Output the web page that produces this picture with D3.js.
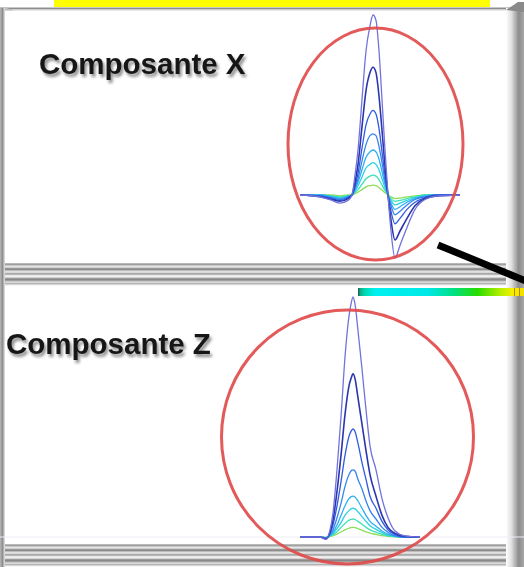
<!DOCTYPE html>
<html>
<head>
<meta charset="utf-8">
<script src="https://cdn.jsdelivr.net/npm/d3@7"></script>
<style>
html, body { margin: 0; padding: 0; background: #fff; overflow: hidden; }
svg { display: block; }
</style>
</head>
<body>
<div id="container"></div>
<script>
var W = 524, H = 567;

// ---- data (time in samples, amplitude normalised to the largest trace) ----
var tX = [150, 160, 166, 170, 174, 176, 177.5, 179, 181, 183, 185, 186.5, 188, 189.5, 191, 192.5, 194, 195.5, 197.5, 200, 203.5, 207.5, 212.5, 218.5, 230];
var x0 = [0, -0.01, -0.03, -0.045, -0.03, 0.0, 0.11, 0.25, 0.53, 0.8, 0.94, 1.0, 0.97, 0.8, 0.53, 0.25, 0.0, -0.2, -0.35, -0.28, -0.18, -0.08, -0.025, -0.005, 0];
var x1 = [0, -0.01, -0.025, -0.035, -0.02, 0.0, 0.07, 0.17, 0.38, 0.58, 0.68, 0.71, 0.68, 0.55, 0.36, 0.16, 0.0, -0.14, -0.25, -0.2, -0.13, -0.06, -0.02, -0.005, 0];
var x2 = [0, -0.005, -0.02, -0.03, -0.015, 0.0, 0.05, 0.12, 0.26, 0.39, 0.45, 0.47, 0.45, 0.37, 0.24, 0.11, 0.0, -0.09, -0.16, -0.13, -0.08, -0.04, -0.015, 0, 0];
var x3 = [0, -0.005, -0.015, -0.025, -0.01, 0.0, 0.04, 0.09, 0.19, 0.28, 0.33, 0.34, 0.33, 0.27, 0.18, 0.08, 0.0, -0.06, -0.11, -0.09, -0.055, -0.025, -0.01, 0, 0];
var x4 = [0, 0, -0.01, -0.02, -0.01, 0.0, 0.03, 0.07, 0.14, 0.21, 0.24, 0.25, 0.24, 0.2, 0.13, 0.06, 0.0, -0.045, -0.08, -0.065, -0.04, -0.02, -0.005, 0, 0];
var x5 = [0, 0, -0.01, -0.015, -0.005, 0.0, 0.02, 0.05, 0.1, 0.15, 0.17, 0.18, 0.17, 0.14, 0.09, 0.04, 0.0, -0.03, -0.055, -0.045, -0.03, -0.015, -0.005, 0, 0];
var x6 = [0, 0, -0.005, -0.01, -0.005, 0, 0.015, 0.03, 0.06, 0.09, 0.105, 0.11, 0.105, 0.085, 0.055, 0.025, 0, -0.02, -0.035, -0.03, -0.02, -0.01, 0, 0, 0];
var x7 = [0, 0, 0, -0.005, 0, 0, 0.008, 0.015, 0.03, 0.045, 0.052, 0.055, 0.052, 0.042, 0.028, 0.012, 0, -0.01, -0.02, -0.017, -0.01, -0.005, 0, 0, 0];

var tZ = [150, 160, 163, 165, 166.5, 168.5, 170.5, 172.5, 174.5, 175.5, 176.5, 177.5, 179, 181, 183, 185, 188, 191, 194, 197.5, 202.5, 210];
var z0 = [0, 0, -0.01, 0.03, 0.1, 0.28, 0.5, 0.75, 0.92, 0.97, 1.0, 0.97, 0.86, 0.7, 0.53, 0.38, 0.28, 0.16, 0.08, 0.025, 0.005, 0];
var z1 = [0, 0, -0.008, 0.02, 0.07, 0.19, 0.34, 0.51, 0.63, 0.66, 0.68, 0.66, 0.58, 0.47, 0.36, 0.26, 0.17, 0.09, 0.04, 0.015, 0.003, 0];
var z2 = [0, 0, -0.006, 0.015, 0.05, 0.13, 0.23, 0.34, 0.42, 0.44, 0.45, 0.44, 0.39, 0.31, 0.24, 0.17, 0.12, 0.065, 0.03, 0.01, 0, 0];
var z3 = [0, 0, -0.005, 0.01, 0.03, 0.08, 0.14, 0.21, 0.26, 0.275, 0.28, 0.275, 0.24, 0.2, 0.15, 0.11, 0.075, 0.04, 0.02, 0.005, 0, 0];
var z4 = [0, 0, -0.004, 0.008, 0.02, 0.05, 0.09, 0.13, 0.16, 0.167, 0.17, 0.167, 0.15, 0.12, 0.09, 0.065, 0.045, 0.025, 0.012, 0.004, 0, 0];
var z5 = [0, 0, -0.003, 0.006, 0.015, 0.035, 0.06, 0.09, 0.11, 0.117, 0.12, 0.117, 0.105, 0.085, 0.065, 0.047, 0.032, 0.018, 0.008, 0.003, 0, 0];
var z6 = [0, 0, -0.002, 0.004, 0.01, 0.022, 0.04, 0.056, 0.07, 0.073, 0.075, 0.073, 0.065, 0.053, 0.04, 0.03, 0.02, 0.011, 0.005, 0.002, 0, 0];
var z7 = [0, 0, -0.002, 0.002, 0.006, 0.012, 0.021, 0.03, 0.037, 0.039, 0.04, 0.039, 0.035, 0.028, 0.021, 0.016, 0.011, 0.006, 0.003, 0.001, 0, 0];

var seriesX = [x0, x1, x2, x3, x4, x5, x6, x7];
var seriesZ = [z0, z1, z2, z3, z4, z5, z6, z7];
var traceColors = ['#7272dc', '#2a36ae', '#2e5be0', '#3784ee', '#2eaef0', '#2ad0e6', '#3ee0b4', '#8ade5a'];

// little bits of noise along the zero line (start, end in samples)
var dashXStart = [0, 5, 12.5, 24, 34, 43, 46, 62, 79, 86, 98, 115, 125, 138, 220];
var dashXEnd   = [3, 11, 22.5, 31, 43, 45, 59, 75, 85, 97.5, 108, 123, 134, 150, 256];
var dashXColor = ['#3a8a9a', '#d070c0', '#9060c0', '#c070d0', '#a0a088', '#404050', '#e0a0a0', '#8050b0', '#5070c0', '#a090d0', '#c060b0', '#4080c0', '#b0b0b0', '#e090b0', '#c8b8e6'];
var dashZStart = [1.5, 83, 135, 144, 220, 247];
var dashZEnd   = [31, 89, 140, 149, 226, 262];
var dashZColor = ['#8a8ad6', '#3040a0', '#3040a0', '#4050b0', '#b4b4e4', '#6a6ac8'];

var labels = ['Composante X', 'Composante Z'];

// colour bar
var cbStops  = [0, 0.04, 0.1, 0.42, 0.58, 0.72, 0.86, 0.93, 1];
var cbColors = ['#109878', '#00d8b0', '#00f0f0', '#00e8e8', '#00e080', '#28dc00', '#b8ee00', '#f4f000', '#f0e000'];

// ---- scales ----
var x = d3.scaleLinear().domain([0, 262]).range([0, W]);
var yX = d3.scaleLinear().domain([0, 1]).range([195, 15]);
var yZ = d3.scaleLinear().domain([0, 1]).range([537, 297]);

var svg = d3.select('#container').append('svg')
  .attr('width', W).attr('height', H)
  .attr('viewBox', '0 0 ' + W + ' ' + H);

var defs = svg.append('defs');
defs.append('filter').attr('id', 'soft').append('feGaussianBlur').attr('stdDeviation', 0.45);
defs.append('filter').attr('id', 'soft2').append('feGaussianBlur').attr('stdDeviation', 0.7);
var sh = defs.append('filter').attr('id', 'shadow')
  .attr('x', '-10%').attr('y', '-30%').attr('width', '130%').attr('height', '180%');
sh.append('feGaussianBlur').attr('in', 'SourceAlpha').attr('stdDeviation', 1.6).attr('result', 'b');
sh.append('feOffset').attr('in', 'b').attr('dx', 2).attr('dy', 3).attr('result', 'o');
sh.append('feComponentTransfer').attr('in', 'o').attr('result', 'o2')
  .append('feFuncA').attr('type', 'linear').attr('slope', 0.45);
var shm = sh.append('feMerge');
shm.append('feMergeNode').attr('in', 'o2');
shm.append('feMergeNode').attr('in', 'SourceGraphic');

var gRight = defs.append('linearGradient').attr('id', 'gRight').attr('x1', 0).attr('x2', 1).attr('y1', 0).attr('y2', 0);
[[0, '#ffffff'], [0.3, '#e0e0e0'], [0.7, '#8c8c8c'], [1, '#a8a8a8']].forEach(function (s) {
  gRight.append('stop').attr('offset', s[0]).attr('stop-color', s[1]);
});
var gLeft = defs.append('linearGradient').attr('id', 'gLeft').attr('x1', 0).attr('x2', 1).attr('y1', 0).attr('y2', 0);
[[0, '#b8b8b8'], [0.5, '#8e8e8e'], [1, '#e8e8e8']].forEach(function (s) {
  gLeft.append('stop').attr('offset', s[0]).attr('stop-color', s[1]);
});
var gCb = defs.append('linearGradient').attr('id', 'gCb').attr('x1', 0).attr('x2', 1).attr('y1', 0).attr('y2', 0);
cbStops.forEach(function (s, i) {
  gCb.append('stop').attr('offset', s).attr('stop-color', cbColors[i]);
});

svg.append('rect').attr('width', W).attr('height', H).attr('fill', '#fff');

// yellow title strip
svg.append('rect').attr('x', 54).attr('y', 0).attr('width', 436).attr('height', 7).attr('fill', '#ffff00');

// frame
var stripes = ['#b8b8b8', '#a0a0a0', '#c8c8c8', '#e4e4e4', '#d0d0d0', '#989898', '#8c8c8c', '#bcbcbc',
  '#e0e0e0', '#d8d8d8', '#a8a8a8', '#b8b8b8', '#e8e8e8', '#f0f0f0', '#d0d0d0', '#9c9c9c', '#888888',
  '#a0a0a0', '#c8c8c8', '#dcdcdc', '#b0b0b0', '#d8d8d8', '#f4f4f4'];
function band(y0) {
  svg.append('g').selectAll('rect').data(stripes).join('rect')
    .attr('x', 0).attr('y', function (d, i) { return y0 + i; })
    .attr('width', W).attr('height', 1).attr('fill', function (d) { return d; });
}
band(263);
band(544);

svg.append('rect').attr('x', 0).attr('y', 7).attr('width', W).attr('height', 1).attr('fill', '#c8c8c8');
svg.append('rect').attr('x', 0).attr('y', 8).attr('width', W).attr('height', 1.5).attr('fill', '#8e8e8e');
svg.append('rect').attr('x', 0).attr('y', 9.5).attr('width', W).attr('height', 1).attr('fill', '#d4d4d4');
svg.append('polygon').attr('points', '0,7 4,7 14,10.5 0,10.5').attr('fill', '#c0c0c0');
svg.append('rect').attr('x', 0).attr('y', 8).attr('width', 5).attr('height', H - 8).attr('fill', 'url(#gLeft)');
svg.append('rect').attr('x', 506).attr('y', 8).attr('width', 18).attr('height', H - 8).attr('fill', 'url(#gRight)');
svg.append('polygon').attr('points', '506,10 518,2 524,2 524,12').attr('fill', '#8a8a8a');

// colour bar
svg.append('rect').attr('x', 358).attr('y', 288).attr('width', 166).attr('height', 8).attr('fill', 'url(#gCb)');
svg.append('rect').attr('x', 358).attr('y', 288).attr('width', 1.5).attr('height', 8).attr('fill', '#2a6a5a');
[514, 519].forEach(function (v) {
  svg.append('rect').attr('x', v).attr('y', 288).attr('width', 1).attr('height', 8).attr('fill', '#c08400');
});

// labels
svg.append('g').attr('filter', 'url(#shadow)').selectAll('text').data(labels).join('text')
  .attr('x', function (d, i) { return i === 0 ? 39 : 6; })
  .attr('y', function (d, i) { return i === 0 ? 74 : 354; })
  .attr('font-family', 'Liberation Sans, Arial, sans-serif')
  .attr('font-weight', 'bold')
  .attr('font-size', 29.5)
  .attr('fill', '#161616')
  .text(function (d) { return d; });

// zero line noise
function dashes(starts, ends, colors, y, w) {
  svg.append('g').attr('filter', 'url(#soft)').selectAll('line').data(starts).join('line')
    .attr('x1', function (d) { return x(d); })
    .attr('x2', function (d, i) { return x(ends[i]); })
    .attr('y1', y(0)).attr('y2', y(0))
    .attr('stroke', function (d, i) { return colors[i]; })
    .attr('stroke-width', w);
}
svg.append('line').attr('x1', x(0)).attr('x2', x(262)).attr('y1', yZ(0)).attr('y2', yZ(0))
  .attr('stroke', '#ececf6').attr('stroke-width', 1);
dashes(dashXStart, dashXEnd, dashXColor, yX, 2);
dashes(dashZStart, dashZEnd, dashZColor, yZ, 2);

// traces: smallest first, largest last so the zero line keeps the outer colour
function traces(t, series, y) {
  var line = d3.line()
    .x(function (d, i) { return x(t[i]); })
    .y(function (d) { return y(d); })
    .curve(d3.curveMonotoneX);
  var order = d3.range(series.length).reverse();
  svg.append('g').attr('filter', 'url(#soft)').selectAll('path').data(order).join('path')
    .attr('d', function (k) { return line(series[k]); })
    .attr('fill', 'none')
    .attr('stroke', function (k) { return traceColors[k]; })
    .attr('stroke-width', function (k) { return k === 1 ? 1.6 : 1.3; });
}
traces(tX, seriesX, yX);
traces(tZ, seriesZ, yZ);

// highlight ellipses (centre in samples / amplitude units, radii in px)
var ringCx = [187.75, 173.75];
var ringCy = [0.283, 0.417];
var ringRx = [87.5, 126];
var ringRy = [116, 127];
var ringY = [yX, yZ];
svg.append('g').attr('filter', 'url(#soft2)').selectAll('ellipse').data(ringCx).join('ellipse')
  .attr('cx', function (d) { return x(d); })
  .attr('cy', function (d, i) { return ringY[i](ringCy[i]); })
  .attr('rx', function (d, i) { return ringRx[i]; })
  .attr('ry', function (d, i) { return ringRy[i]; })
  .attr('fill', 'none')
  .attr('stroke', '#e04848')
  .attr('stroke-width', 3)
  .attr('stroke-opacity', 0.9);

// pointer
svg.append('line').attr('x1', 438).attr('y1', 245).attr('x2', 526).attr('y2', 281)
  .attr('stroke', '#000').attr('stroke-width', 7);
</script>
</body>
</html>
